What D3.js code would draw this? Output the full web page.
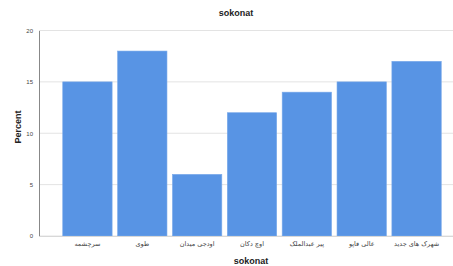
<!DOCTYPE html>
<html lang="en">
<head>
    <meta charset="UTF-8">
    <script src="https://cdn.jsdelivr.net/npm/d3@7"></script>
    <title>sokonat</title>
    <style>
        body { margin: 0; background: #fff; }
        svg { font-family: Arial, "Liberation Sans", sans-serif; display: block; }
    </style>
</head>
<body>
    <div id="chart"></div>
    <script>
        // neighbourhoods and percent values
        const categories = ["سرچشمه", "طوی", "اودجی میدان", "اوچ دکان", "پیر عبدالملک", "عالی قاپو", "شهرک های جدید"];
        const percents = [15, 18, 6, 12, 14, 15, 17];
        const yTicks = [0, 5, 10, 15, 20];

        const width = 453, height = 266;
        const svg = d3.select("#chart").append("svg")
            .attr("width", width)
            .attr("height", height);

        const x = d3.scaleBand()
            .domain(categories)
            .range([60, 444])
            .paddingInner(0.1)
            .paddingOuter(0.05);

        const y = d3.scaleLinear()
            .domain([0, 20])
            .range([236, 30.5]);

        // gridlines
        svg.append("g")
            .selectAll("line")
            .data(yTicks)
            .enter().append("line")
            .attr("x1", 39).attr("x2", width)
            .attr("y1", d => y(d)).attr("y2", d => y(d))
            .attr("stroke", "#e3e3e3")
            .attr("stroke-width", 1);

        // bars
        svg.append("g")
            .selectAll("rect")
            .data(categories)
            .enter().append("rect")
            .attr("x", d => x(d))
            .attr("y", (d, i) => y(percents[i]))
            .attr("width", x.bandwidth())
            .attr("height", (d, i) => y(0) - y(percents[i]))
            .attr("fill", "#5894e4")
            .attr("stroke", "#7aaaea")
            .attr("stroke-width", 0.6);

        // y axis
        const yAxis = svg.append("g")
            .attr("transform", "translate(39,0)")
            .call(d3.axisLeft(y).tickValues(yTicks).tickSize(0).tickPadding(6));
        yAxis.select(".domain").attr("stroke", "#888");
        yAxis.selectAll("text").attr("font-size", 6).attr("fill", "#444");

        // x axis
        const xAxis = svg.append("g")
            .attr("transform", "translate(0,236)")
            .call(d3.axisBottom(x).tickSize(0).tickPadding(5));
        xAxis.select(".domain").remove();
        xAxis.selectAll("text").attr("font-size", 6.5).attr("fill", "#444")
            .attr("font-family", "DejaVu Sans, Noto Sans, sans-serif");
        svg.append("line")
            .attr("x1", 39).attr("x2", width)
            .attr("y1", 236.5).attr("y2", 236.5)
            .attr("stroke", "#d8d8d8");

        // titles
        svg.append("text")
            .attr("x", 236).attr("y", 16)
            .attr("text-anchor", "middle")
            .attr("font-size", 9).attr("font-weight", "bold")
            .attr("fill", "#222")
            .text("sokonat");

        svg.append("text")
            .attr("x", 251).attr("y", 264)
            .attr("text-anchor", "middle")
            .attr("font-size", 9).attr("font-weight", "bold")
            .attr("fill", "#222")
            .text("sokonat");

        svg.append("text")
            .attr("transform", "translate(21,127) rotate(-90)")
            .attr("text-anchor", "middle")
            .attr("font-size", 9).attr("font-weight", "bold")
            .attr("fill", "#222")
            .text("Percent");
    </script>
</body>
</html>
